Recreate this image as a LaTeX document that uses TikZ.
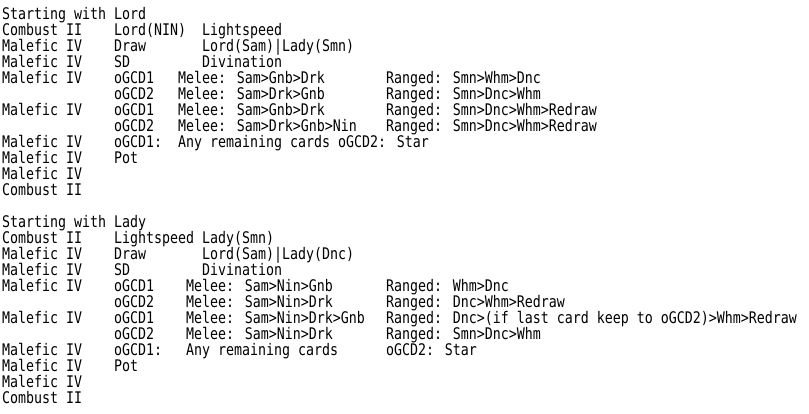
\documentclass[tikz,border=0pt]{standalone}
\usepackage{fontspec}
\newfontfamily\gothic[FakeStretch=0.8306]{DejaVu Sans Mono}
\begin{document}
\begin{tikzpicture}[x=8pt, y=-16pt,
  every node/.style={anchor=base west, inner sep=0pt, font=\gothic\fontsize{16pt}{16pt}\selectfont}]
 \useasboundingbox[fill=white] (-0.25,-0.1875) rectangle (100.875,25.625);

 % starting with lord
 \node (t1) at (0,1) {Starting with Lord};
 \node (a2) at (0,2) {Combust II};
 \node (b2) at (14,2) {Lord(NIN)};
 \node (c2) at (25,2) {Lightspeed};
 \node (a3) at (0,3) {Malefic IV};
 \node (b3) at (14,3) {Draw};
 \node (c3) at (25,3) {Lord(Sam)|Lady(Smn)};
 \node (a4) at (0,4) {Malefic IV};
 \node (b4) at (14,4) {SD};
 \node (c4) at (25,4) {Divination};
 \node (a5) at (0,5) {Malefic IV};
 \node (b5) at (14,5) {oGCD1};
 \node (c5) at (22,5) {Melee: Sam>Gnb>Drk};
 \node (d5) at (48,5) {Ranged: Smn>Whm>Dnc};
 \node (b6) at (14,6) {oGCD2};
 \node (c6) at (22,6) {Melee: Sam>Drk>Gnb};
 \node (d6) at (48,6) {Ranged: Smn>Dnc>Whm};
 \node (a7) at (0,7) {Malefic IV};
 \node (b7) at (14,7) {oGCD1};
 \node (c7) at (22,7) {Melee: Sam>Gnb>Drk};
 \node (d7) at (48,7) {Ranged: Smn>Dnc>Whm>Redraw};
 \node (b8) at (14,8) {oGCD2};
 \node (c8) at (22,8) {Melee: Sam>Drk>Gnb>Nin};
 \node (d8) at (48,8) {Ranged: Smn>Dnc>Whm>Redraw};
 \node (a9) at (0,9) {Malefic IV};
 \node (b9) at (14,9) {oGCD1:};
 \node (c9) at (22,9) {Any remaining cards oGCD2: Star};
 \node (a10) at (0,10) {Malefic IV};
 \node (b10) at (14,10) {Pot};
 \node (a11) at (0,11) {Malefic IV};
 \node (a12) at (0,12) {Combust II};

 % starting with lady
 \node (t14) at (0,14) {Starting with Lady};
 \node (a15) at (0,15) {Combust II};
 \node (b15) at (14,15) {Lightspeed};
 \node (c15) at (25,15) {Lady(Smn)};
 \node (a16) at (0,16) {Malefic IV};
 \node (b16) at (14,16) {Draw};
 \node (c16) at (25,16) {Lord(Sam)|Lady(Dnc)};
 \node (a17) at (0,17) {Malefic IV};
 \node (b17) at (14,17) {SD};
 \node (c17) at (25,17) {Divination};
 \node (a18) at (0,18) {Malefic IV};
 \node (b18) at (14,18) {oGCD1};
 \node (c18) at (23,18) {Melee: Sam>Nin>Gnb};
 \node (d18) at (48,18) {Ranged: Whm>Dnc};
 \node (b19) at (14,19) {oGCD2};
 \node (c19) at (23,19) {Melee: Sam>Nin>Drk};
 \node (d19) at (48,19) {Ranged: Dnc>Whm>Redraw};
 \node (a20) at (0,20) {Malefic IV};
 \node (b20) at (14,20) {oGCD1};
 \node (c20) at (23,20) {Melee: Sam>Nin>Drk>Gnb};
 \node (d20) at (48,20) {Ranged: Dnc>(if last card keep to oGCD2)>Whm>Redraw};
 \node (b21) at (14,21) {oGCD2};
 \node (c21) at (23,21) {Melee: Sam>Nin>Drk};
 \node (d21) at (48,21) {Ranged: Smn>Dnc>Whm};
 \node (a22) at (0,22) {Malefic IV};
 \node (b22) at (14,22) {oGCD1:};
 \node (c22) at (23,22) {Any remaining cards};
 \node (d22) at (48,22) {oGCD2: Star};
 \node (a23) at (0,23) {Malefic IV};
 \node (b23) at (14,23) {Pot};
 \node (a24) at (0,24) {Malefic IV};
 \node (a25) at (0,25) {Combust II};
\end{tikzpicture}
\end{document}
